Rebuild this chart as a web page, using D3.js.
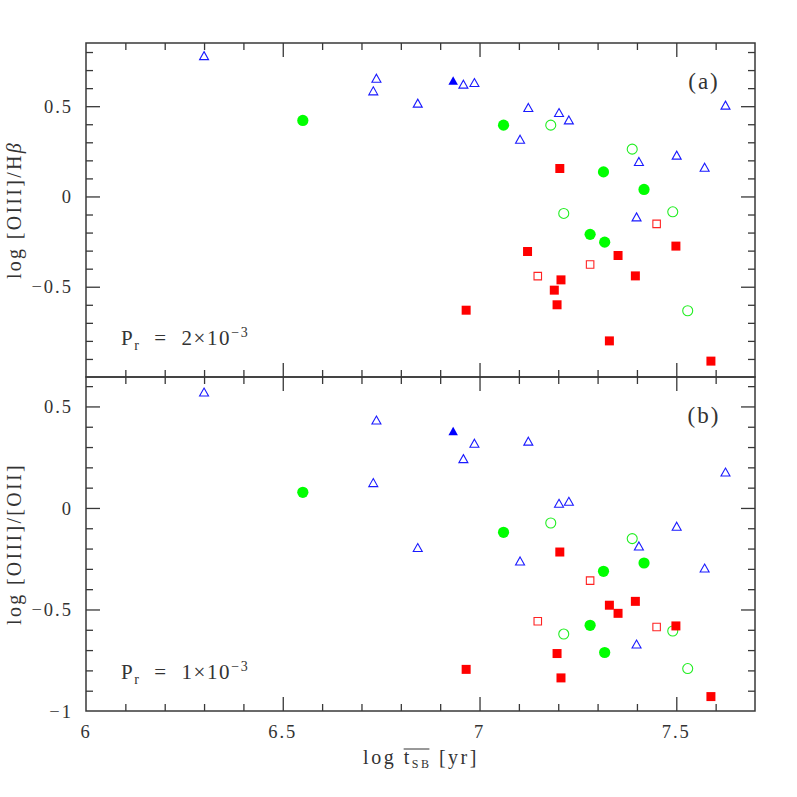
<!DOCTYPE html>
<html><head><meta charset="utf-8">
<script src="https://cdn.jsdelivr.net/npm/d3@7"></script>
<style>
html,body{margin:0;padding:0;background:#fff;}
svg{display:block;}
text{font-family:"Liberation Serif","Times New Roman",serif;fill:#333;}
</style></head><body>
<svg id="chart" width="797" height="797"></svg>
<script>
// ---------------- data ----------------
const xTickLabels = [6, 6.5, 7, 7.5];
const yTickLabelsA = [0.5, 0, -0.5];
const yTickLabelsB = [0.5, 0, -0.5, -1];
const panelNames = ["(a)", "(b)"];
const prMantissa = ["2", "1"];
const xTitle = ["log ", "t", "SB", " [yr]"];
const yTitleA = "log [OIII]/H";
const yTitleB = "log [OIII]/[OII]";

// open blue triangles: x, log [OIII]/Hb, log [OIII]/[OII]
const triOpenX = [6.300, 6.738, 6.730, 6.843, 6.959, 6.987, 7.124, 7.202, 7.227, 7.103, 7.625, 7.405, 7.501, 7.572, 7.399];
const triOpenA = [0.780, 0.655, 0.585, 0.517, 0.622, 0.631, 0.493, 0.465, 0.424, 0.317, 0.506, 0.194, 0.229, 0.162, -0.113];
const triOpenB = [0.571, 0.433, 0.125, -0.195, 0.243, 0.319, 0.329, 0.023, 0.033, -0.261, 0.177, -0.187, -0.090, -0.296, -0.670];
// filled blue triangle
const triFillX = [6.933];
const triFillA = [0.642];
const triFillB = [0.379];
// filled green circles
const cirFillX = [6.551, 7.061, 7.315, 7.418, 7.281, 7.318];
const cirFillA = [0.421, 0.395, 0.136, 0.039, -0.210, -0.253];
const cirFillB = [0.077, -0.120, -0.312, -0.271, -0.578, -0.712];
// open green circles
const cirOpenX = [7.181, 7.388, 7.214, 7.491, 7.529];
const cirOpenA = [0.395, 0.262, -0.094, -0.085, -0.633];
const cirOpenB = [-0.074, -0.151, -0.621, -0.606, -0.791];
// filled red squares (null = not shown)
const sqFillX = [7.204, 7.499, 7.122, 7.352, 7.396, 7.207, 7.190, 7.197, 6.966, 7.330, 7.588];
const sqFillA = [0.155, -0.275, -0.305, -0.327, -0.440, -0.462, -0.519, -0.600, -0.630, -0.800, -0.912];
const sqFillB = [-0.217, -0.581, null, -0.519, -0.460, -0.837, null, -0.717, -0.795, -0.479, -0.929];
// open red squares
const sqOpenX = [7.450, 7.281, 7.148];
const sqOpenA = [-0.152, -0.377, -0.441];
const sqOpenB = [-0.586, -0.358, -0.558];

// ---------------- layout ----------------
const svg = d3.select("#chart");
const L = 86, R = 755, T = 43, M = 377, B = 711;
const AX = "#383838";
const x = d3.scaleLinear().domain([6, 7.7]).range([L, R]);
const yA = d3.scaleLinear().domain([-1, 0.85]).range([M, T]);
const yB = d3.scaleLinear().domain([-1, 0.645]).range([B, M]);

const series = [
  {xs: triOpenX, a: triOpenA, b: triOpenB, shape: "tri", fill: false, color: "#1a1aff"},
  {xs: triFillX, a: triFillA, b: triFillB, shape: "tri", fill: true, color: "#0000ff"},
  {xs: cirFillX, a: cirFillA, b: cirFillB, shape: "cir", fill: true, color: "#00ff00"},
  {xs: cirOpenX, a: cirOpenA, b: cirOpenB, shape: "cir", fill: false, color: "#22ee22"},
  {xs: sqFillX, a: sqFillA, b: sqFillB, shape: "sq", fill: true, color: "#ff0000"},
  {xs: sqOpenX, a: sqOpenA, b: sqOpenB, shape: "sq", fill: false, color: "#ff2222"}
];

function markerPath(shape, fill) {
  if (shape === "tri") { const w = fill ? 9.5 : 9, h = fill ? 8.5 : 8;
    return `M0,${-h/2}L${w/2},${h/2}L${-w/2},${h/2}Z`; }
  if (shape === "sq") { const s = fill ? 9 : 7.5; return `M${-s/2},${-s/2}h${s}v${s}h${-s}Z`; }
  const r = fill ? 5.6 : 5; return `M${r},0A${r},${r} 0 1,1 ${-r},0A${r},${r} 0 1,1 ${r},0Z`;
}

const fmt = d => d < 0 ? "\u2212" + Math.abs(d) : String(d);

function drawPanel(y, top, bottom, key, yLabels, name, mant, showX) {
  const g = svg.append("g");
  const xs0 = d3.range(61, 77).map(i => i / 10).filter(v => Math.abs(v * 2 - Math.round(v * 2)) > 1e-6);
  const [d0, d1] = y.domain();
  const ys0 = d3.range(Math.ceil(d0 * 10), Math.floor(d1 * 10) + 1).map(i => i / 10)
    .filter(v => Math.abs(v * 2 - Math.round(v * 2)) > 1e-6);
  const ysM = d3.range(Math.ceil(d0 * 2), Math.floor(d1 * 2) + 1).map(i => i / 2).filter(v => v > d0 + 1e-6 && v < d1 - 1e-6);
  const axes = [
    [d3.axisBottom(x).tickValues(xs0).tickSize(-7), `translate(0,${bottom})`],
    [d3.axisBottom(x).tickValues(xTickLabels.slice(1)).tickSize(-14), `translate(0,${bottom})`],
    [d3.axisTop(x).tickValues(xs0).tickSize(-7), `translate(0,${top})`],
    [d3.axisTop(x).tickValues(xTickLabels.slice(1)).tickSize(-14), `translate(0,${top})`],
    [d3.axisLeft(y).tickValues(ys0).tickSize(-7), `translate(${L},0)`],
    [d3.axisLeft(y).tickValues(ysM).tickSize(-14), `translate(${L},0)`],
    [d3.axisRight(y).tickValues(ys0).tickSize(-7), `translate(${R},0)`],
    [d3.axisRight(y).tickValues(ysM).tickSize(-14), `translate(${R},0)`]
  ];
  axes.forEach(([ax, tr]) => {
    const a = g.append("g").attr("transform", tr).call(ax.tickFormat(""));
    a.select(".domain").remove();
    a.selectAll("line").attr("stroke", AX).attr("stroke-width", 1.3);
  });
  g.append("rect").attr("x", L).attr("y", top).attr("width", R - L).attr("height", bottom - top)
    .attr("fill", "none").attr("stroke", AX).attr("stroke-width", 1.5);

  // y tick labels
  g.selectAll("text.yt").data(yLabels).join("text").attr("class", "yt")
    .attr("x", 73).attr("y", d => y(d)).attr("dy", "0.36em").attr("text-anchor", "end")
    .attr("font-size", 18.5).attr("letter-spacing", 2).text(fmt);

  if (showX) {
    g.selectAll("text.xt").data(xTickLabels).join("text").attr("class", "xt")
      .attr("x", d => x(d)).attr("y", 738).attr("text-anchor", "middle")
      .attr("font-size", 18.5).attr("letter-spacing", 2).text(fmt);
  }

  // panel name
  g.append("text").attr("x", 704).attr("y", top + 46).attr("text-anchor", "middle")
    .attr("font-size", 23).attr("letter-spacing", 2).text(name);

  // P_r label
  const pt = g.append("text").attr("x", 121).attr("y", bottom - 32).attr("font-size", 21)
    .attr("letter-spacing", 1.6).style("white-space", "pre");
  pt.append("tspan").text("P");
  pt.append("tspan").attr("font-size", 14).attr("dy", 5).text("r");
  pt.append("tspan").attr("dy", -5).text("  =  " + mant + "\u00d710");
  pt.append("tspan").attr("font-size", 14).attr("dy", -8).text("\u22123");

  // markers
  const clipId = "clip" + key;
  svg.append("clipPath").attr("id", clipId).append("rect")
    .attr("x", L).attr("y", top).attr("width", R - L).attr("height", bottom - top);
  const mg = svg.append("g").attr("clip-path", `url(#${clipId})`);
  series.forEach(s => {
    const vals = s[key];
    const pts = s.xs.map((xv, i) => [xv, vals[i]]).filter(p => p[1] !== null);
    mg.selectAll(null).data(pts).join("path")
      .attr("transform", p => `translate(${x(p[0])},${y(p[1])})`)
      .attr("d", markerPath(s.shape, s.fill))
      .attr("fill", s.fill ? s.color : "none")
      .attr("stroke", s.color)
      .attr("stroke-width", s.fill ? 0 : 1.1);
  });
}

drawPanel(yA, T, M, "a", yTickLabelsA, panelNames[0], prMantissa[0], false);
drawPanel(yB, M, B, "b", yTickLabelsB, panelNames[1], prMantissa[1], true);

// y axis titles
const ta = svg.append("text").attr("transform", `translate(21,${(T + M) / 2}) rotate(-90)`)
  .attr("text-anchor", "middle").attr("font-size", 20).attr("letter-spacing", 2.3);
ta.append("tspan").text(yTitleA);
ta.append("tspan").attr("font-style", "italic").text("\u03b2");

svg.append("text").attr("transform", `translate(21,${(M + B) / 2}) rotate(-90)`)
  .attr("text-anchor", "middle").attr("font-size", 20).attr("letter-spacing", 2.3).text(yTitleB);

// x axis title with overline
const xt = svg.append("text").attr("x", 421).attr("y", 764).attr("text-anchor", "middle")
  .attr("font-size", 20).attr("letter-spacing", 2.5).style("white-space", "pre");
xt.append("tspan").text(xTitle[0]);
xt.append("tspan").text(xTitle[1]);
xt.append("tspan").attr("font-size", 12).attr("dy", 4).text(xTitle[2]);
xt.append("tspan").attr("dy", -4).text(xTitle[3]);
const node = xt.node();
const i0 = xTitle[0].length, i1 = i0 + xTitle[1].length + xTitle[2].length - 1;
const e0 = node.getExtentOfChar(i0), e1 = node.getExtentOfChar(i1);
svg.append("line").attr("x1", e0.x).attr("x2", e1.x + e1.width - 2)
  .attr("y1", 749).attr("y2", 749).attr("stroke", "#333").attr("stroke-width", 1);
</script>
</body></html>
